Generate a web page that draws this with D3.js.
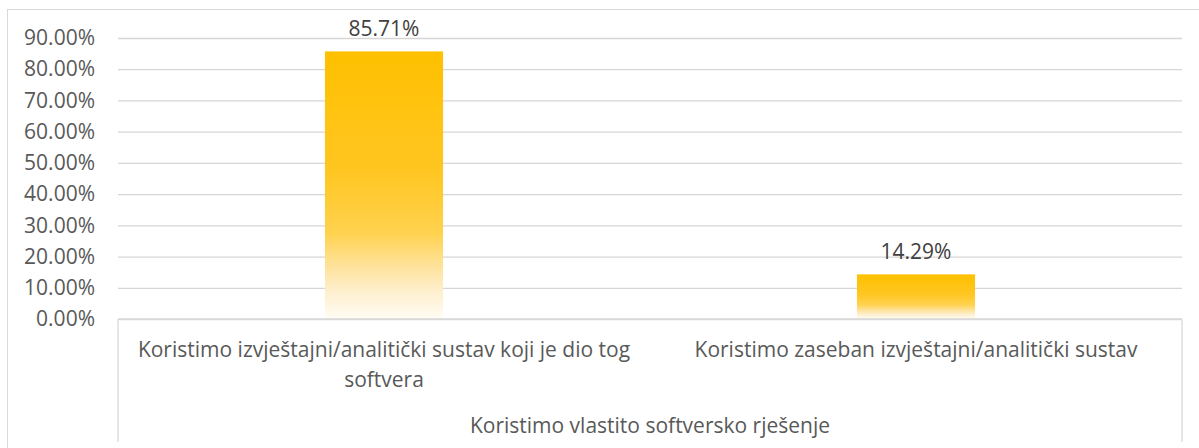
<!DOCTYPE html>
<html>
<head>
<meta charset="utf-8">
<script src="https://cdn.jsdelivr.net/npm/d3@7"></script>
<style>
  body { margin: 0; background: #fff; }
  svg { display: block; }
  text { font-family: "Open Sans", Lato, sans-serif; fill: #595959; }
</style>
</head>
<body>
<svg id="chart" width="1199" height="448"></svg>
<script>
// Survey answers (percent of respondents)
const categories = [
  "Koristimo izvještajni/analitički sustav koji je dio tog softvera",
  "Koristimo zaseban izvještajni/analitički sustav"
];
const groupLabel = "Koristimo vlastito softversko rješenje";
const values = [85.71, 14.29];
const yTicks = [0, 10, 20, 30, 40, 50, 60, 70, 80, 90];

const svg = d3.select("#chart");
const plotLeft = 118, plotRight = 1182, plotTop = 38, plotBottom = 319;
const fontSize = 21;

// Chart frame
svg.append("rect")
  .attr("x", 7.5).attr("y", 9.5)
  .attr("width", 1210).attr("height", 500)
  .attr("fill", "none").attr("stroke", "#d9d9d9");

const x = d3.scaleBand()
  .domain(categories)
  .range([plotLeft, plotRight])
  .paddingInner(0.778)
  .paddingOuter(0.389);

const y = d3.scaleLinear().domain([0, 90]).range([plotBottom, plotTop]);

// Value axis with horizontal gridlines
const yAxis = svg.append("g")
  .attr("transform", `translate(${plotLeft},0)`)
  .call(d3.axisLeft(y)
    .tickValues(yTicks)
    .tickSize(-(plotRight - plotLeft))
    .tickPadding(23)
    .tickFormat(d => d.toFixed(2) + "%"));
yAxis.select(".domain").remove();
yAxis.selectAll(".tick line")
  .attr("stroke", "#d6d6d6")
  .attr("stroke-width", 1.3);
yAxis.selectAll(".tick text")
  .style("font-size", fontSize + "px")
  .attr("fill", "#595959");

// Gold-to-white gradient for the bars
const defs = svg.append("defs");
const grad = defs.append("linearGradient")
  .attr("id", "barFill")
  .attr("x1", 0).attr("y1", 0).attr("x2", 0).attr("y2", 1);
[
  [0, "#ffc000"],
  [0.45, "#ffc622"],
  [0.68, "#ffd24f"],
  [0.8, "#fee29a"],
  [0.9, "#fef0cf"],
  [1, "#fffcf5"]
].forEach(([o, c]) => grad.append("stop").attr("offset", o).attr("stop-color", c));

svg.append("g").selectAll("rect")
  .data(values)
  .join("rect")
  .attr("x", (d, i) => x(categories[i]))
  .attr("y", d => y(d))
  .attr("width", x.bandwidth())
  .attr("height", d => y(0) - y(d))
  .attr("fill", "url(#barFill)");

// Baseline drawn over the bars
svg.append("line")
  .attr("x1", plotLeft).attr("x2", plotRight)
  .attr("y1", y(0)).attr("y2", y(0))
  .attr("stroke", "#d9d9d9").attr("stroke-width", 1.5);

// Value labels
svg.append("g").selectAll("text")
  .data(values)
  .join("text")
  .attr("x", (d, i) => x(categories[i]) + x.bandwidth() / 2)
  .attr("y", d => y(d) - 15)
  .attr("text-anchor", "middle")
  .style("font-size", fontSize + "px")
  .style("fill", "#404040")
  .text(d => d.toFixed(2) + "%");

// Category axis box
[plotLeft, plotRight].forEach(px => {
  svg.append("line")
    .attr("x1", px).attr("x2", px)
    .attr("y1", y(0)).attr("y2", 442)
    .attr("stroke", "#d9d9d9").attr("stroke-width", 1.3);
});

// Category labels, wrapped to the category step
const step = x.step();
function wrapLines(str, maxW) {
  const probe = svg.append("text").style("font-size", fontSize + "px");
  const words = str.split(" ");
  const lines = [];
  let cur = [];
  words.forEach(w => {
    const trial = cur.concat(w).join(" ");
    probe.text(trial);
    if (probe.node().getComputedTextLength() > maxW && cur.length) {
      lines.push(cur.join(" "));
      cur = [w];
    } else {
      cur.push(w);
    }
  });
  if (cur.length) lines.push(cur.join(" "));
  probe.remove();
  return lines;
}

categories.forEach(c => {
  const cx = x(c) + x.bandwidth() / 2;
  const lines = wrapLines(c, step - 20);
  const t = svg.append("text")
    .attr("text-anchor", "middle")
    .style("font-size", fontSize + "px");
  lines.forEach((ln, i) => {
    t.append("tspan")
      .attr("x", cx)
      .attr("y", 357 + i * 30)
      .text(ln);
  });
});

// Group label spanning both categories
svg.append("text")
  .attr("x", (plotLeft + plotRight) / 2)
  .attr("y", 433)
  .attr("text-anchor", "middle")
  .style("font-size", fontSize + "px")
  .text(groupLabel);
</script>
</body>
</html>
